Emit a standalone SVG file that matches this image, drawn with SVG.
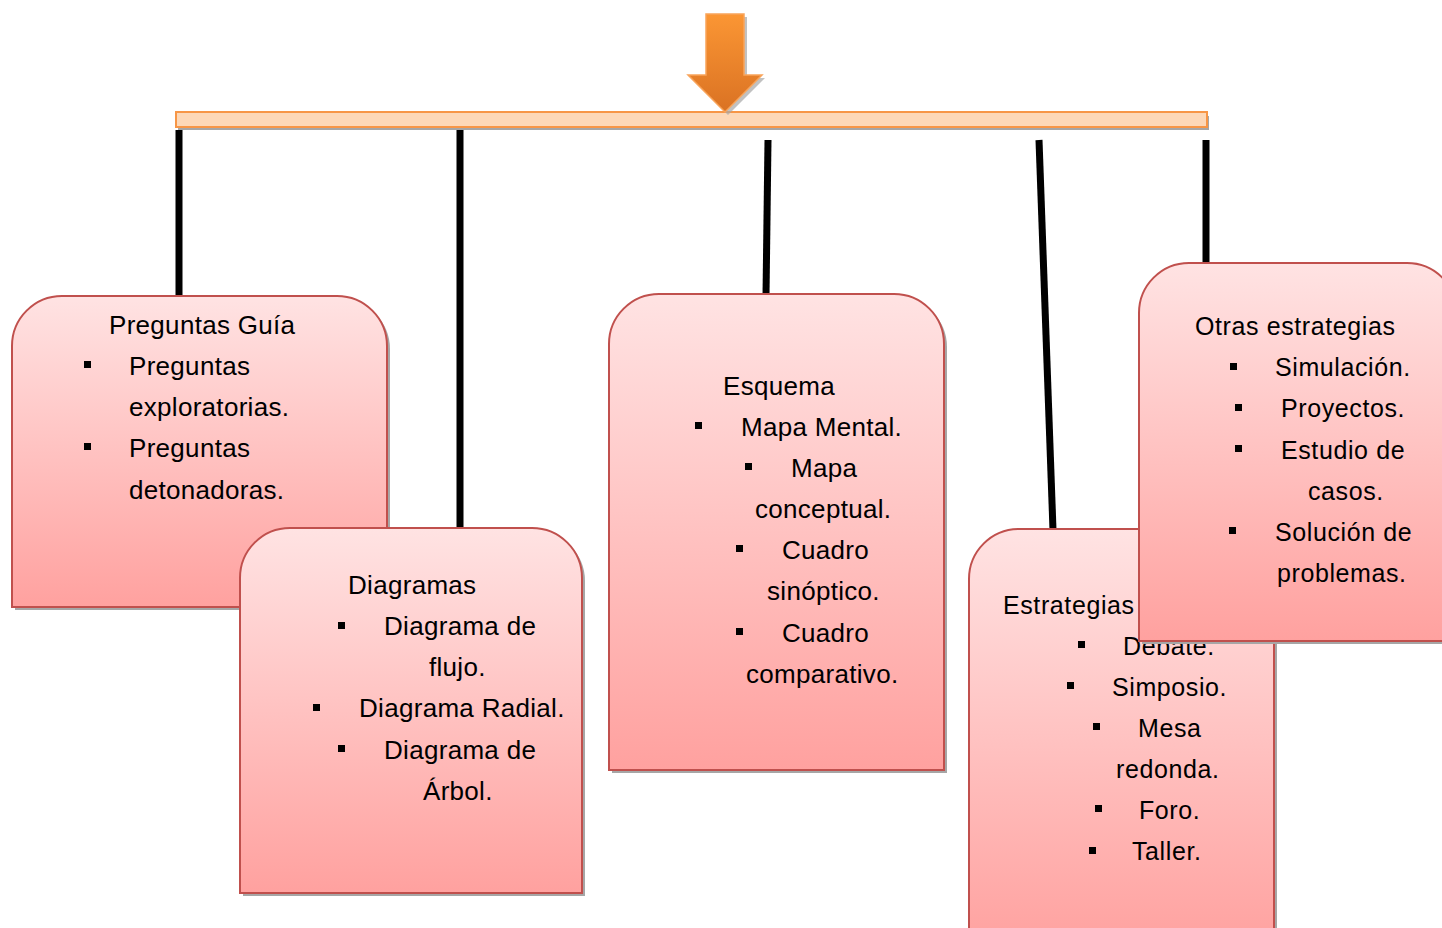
<svg xmlns="http://www.w3.org/2000/svg" width="1442" height="928" viewBox="0 0 1442 928">
<defs>
<linearGradient id="boxGrad" x1="0" y1="0" x2="0" y2="1">
<stop offset="0" stop-color="#FFE3E3"/>
<stop offset="1" stop-color="#FFA19F"/>
</linearGradient>
<linearGradient id="arrowGrad" x1="0" y1="0" x2="0" y2="1">
<stop offset="0" stop-color="#FB9634"/>
<stop offset="1" stop-color="#DA7223"/>
</linearGradient>
<style>
.box{fill:url(#boxGrad);stroke:#C0504D;stroke-width:2}
.shadow{fill:#A6A6A6;stroke:none}
.conn{stroke:#000;stroke-width:7;fill:none}
text{font-family:"Liberation Sans",Arial,sans-serif;font-size:26px;letter-spacing:0.3px;fill:#000}
text.wide{font-size:25px;letter-spacing:0.6px}
.bul{fill:#000}
</style>
</defs>
<g id="connectors">
<line class="conn" x1="179" y1="130" x2="179" y2="298"/>
<line class="conn" x1="460" y1="130" x2="460" y2="530"/>
<line class="conn" x1="768" y1="140" x2="766" y2="296"/>
<line class="conn" x1="1039" y1="140" x2="1053" y2="530"/>
<line class="conn" x1="1206" y1="140" x2="1206" y2="265"/>
</g>
<g id="bar">
<rect class="shadow" x="178" y="116" width="1031" height="14"/>
<rect x="176" y="112" width="1031" height="15" fill="#FDD8B7" stroke="#F79646" stroke-width="2"/>
</g>
<g id="arrow">
<path class="shadow" d="M709,17 L747,17 L747,78 L765,78 L728,115 L691,78 L709,78 Z" opacity="0.7"/>
<path d="M706,14 L744,14 L744,75 L762,75 L725,112 L688,75 L706,75 Z" fill="url(#arrowGrad)" stroke="#F9A45A" stroke-width="1.5"/>
</g>
<g id="node-preguntas">
<path class="shadow" d="M15,610 L15,349 A50,50 0 0 1 65,299 L340,299 A50,50 0 0 1 390,349 L390,610 Z"/>
<path class="box" d="M12,607 L12,346 A50,50 0 0 1 62,296 L337,296 A50,50 0 0 1 387,346 L387,607 Z"/>
<text x="109" y="334">Preguntas Guía</text>
<rect class="bul" x="84" y="361" width="7" height="7"/>
<text x="129" y="375">Preguntas</text>
<text x="129" y="416">exploratorias.</text>
<rect class="bul" x="84" y="443" width="7" height="7"/>
<text x="129" y="457">Preguntas</text>
<text x="129" y="499">detonadoras.</text>
</g>
<g id="node-diagramas">
<path class="shadow" d="M243,896 L243,581 A50,50 0 0 1 293,531 L535,531 A50,50 0 0 1 585,581 L585,896 Z"/>
<path class="box" d="M240,893 L240,578 A50,50 0 0 1 290,528 L532,528 A50,50 0 0 1 582,578 L582,893 Z"/>
<text x="348" y="594">Diagramas</text>
<rect class="bul" x="338" y="622" width="7" height="7"/>
<text x="384" y="635">Diagrama de</text>
<text x="429" y="676">flujo.</text>
<rect class="bul" x="313" y="704" width="7" height="7"/>
<text x="359" y="717">Diagrama Radial.</text>
<rect class="bul" x="338" y="745" width="7" height="7"/>
<text x="384" y="759">Diagrama de</text>
<text x="423" y="800">Árbol.</text>
</g>
<g id="node-esquema">
<path class="shadow" d="M612,773 L612,347 A50,50 0 0 1 662,297 L897,297 A50,50 0 0 1 947,347 L947,773 Z"/>
<path class="box" d="M609,770 L609,344 A50,50 0 0 1 659,294 L894,294 A50,50 0 0 1 944,344 L944,770 Z"/>
<text x="723" y="395">Esquema</text>
<rect class="bul" x="695" y="422" width="7" height="7"/>
<text x="741" y="436">Mapa Mental.</text>
<rect class="bul" x="745" y="463" width="7" height="7"/>
<text x="791" y="477">Mapa</text>
<text x="755" y="518">conceptual.</text>
<rect class="bul" x="736" y="545" width="7" height="7"/>
<text x="782" y="559">Cuadro</text>
<text x="767" y="600">sinóptico.</text>
<rect class="bul" x="736" y="628" width="7" height="7"/>
<text x="782" y="642">Cuadro</text>
<text x="746" y="683">comparativo.</text>
</g>
<g id="node-estrategias">
<path class="shadow" d="M972,950 L972,582 A50,50 0 0 1 1022,532 L1227,532 A50,50 0 0 1 1277,582 L1277,950 Z"/>
<path class="box" d="M969,950 L969,579 A50,50 0 0 1 1019,529 L1224,529 A50,50 0 0 1 1274,579 L1274,950 Z"/>
<text class="wide" x="1003" y="614">Estrategias</text>
<rect class="bul" x="1078" y="641" width="7" height="7"/>
<text class="wide" x="1123" y="655">Debate.</text>
<rect class="bul" x="1067" y="682" width="7" height="7"/>
<text class="wide" x="1112" y="696">Simposio.</text>
<rect class="bul" x="1093" y="723" width="7" height="7"/>
<text class="wide" x="1138" y="737">Mesa</text>
<text class="wide" x="1116" y="778">redonda.</text>
<rect class="bul" x="1095" y="805" width="7" height="7"/>
<text class="wide" x="1139" y="819">Foro.</text>
<rect class="bul" x="1089" y="847" width="7" height="7"/>
<text class="wide" x="1132" y="860">Taller.</text>
</g>
<g id="node-otras">
<path class="shadow" d="M1142,644 L1142,316 A50,50 0 0 1 1192,266 L1410,266 A50,50 0 0 1 1460,316 L1460,644 Z"/>
<path class="box" d="M1139,641 L1139,313 A50,50 0 0 1 1189,263 L1407,263 A50,50 0 0 1 1457,313 L1457,641 Z"/>
<text class="wide" x="1195" y="335">Otras estrategias</text>
<rect class="bul" x="1230" y="363" width="7" height="7"/>
<text class="wide" x="1275" y="376">Simulación.</text>
<rect class="bul" x="1235" y="404" width="7" height="7"/>
<text class="wide" x="1281" y="417">Proyectos.</text>
<rect class="bul" x="1235" y="445" width="7" height="7"/>
<text class="wide" x="1281" y="459">Estudio de</text>
<text class="wide" x="1308" y="500">casos.</text>
<rect class="bul" x="1229" y="527" width="7" height="7"/>
<text class="wide" x="1275" y="541">Solución de</text>
<text class="wide" x="1277" y="582">problemas.</text>
</g>
</svg>
